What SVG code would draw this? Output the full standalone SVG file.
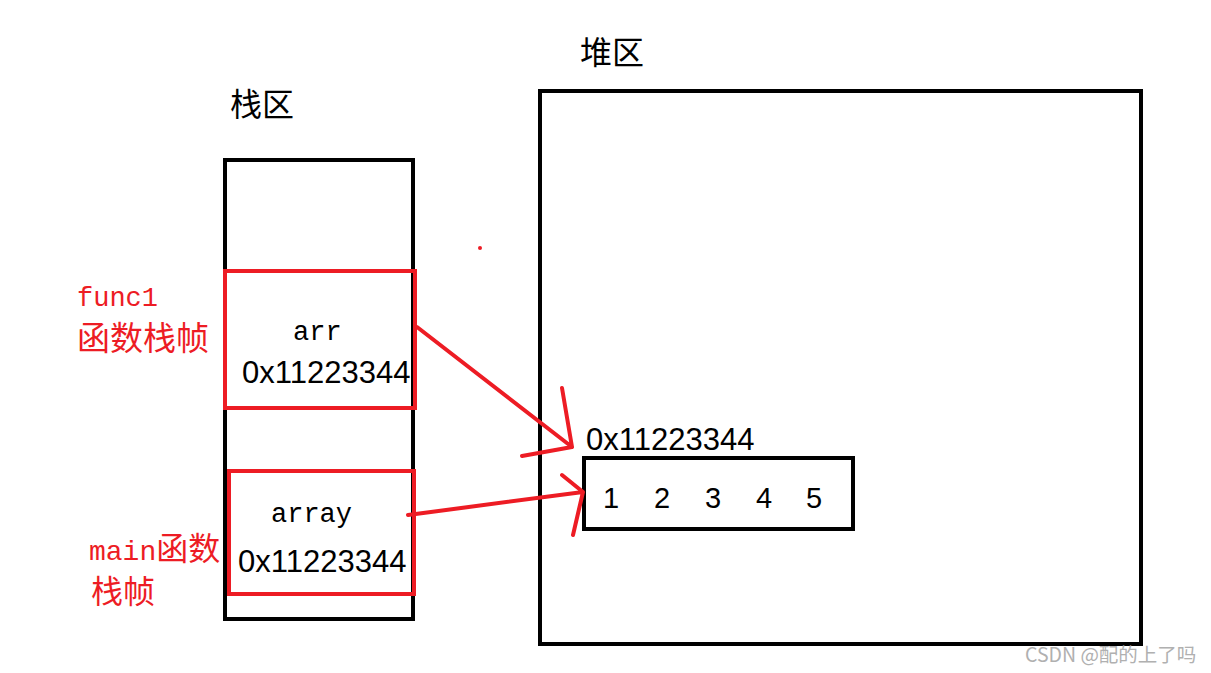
<svg xmlns="http://www.w3.org/2000/svg" width="1211" height="673" viewBox="0 0 1211 673">
<style>
.box{fill:none;stroke:#000;stroke-width:4}
.rbox{fill:none;stroke:#ed1c24;stroke-width:4}
.cn{font-family:"Noto Sans CJK SC","Noto Sans",sans-serif;font-size:32px}
.mono{font-family:"Liberation Mono","DejaVu Sans Mono",monospace;font-size:27px}
.num{font-family:"Liberation Sans",Arial,sans-serif;font-size:29px;fill:#000}
.addr{font-family:"Liberation Sans",Arial,sans-serif;font-size:31px;fill:#000}
.red{fill:#ed1c24}
.arrow{fill:none;stroke:#ed1c24;stroke-width:4;stroke-linecap:round;stroke-linejoin:round}
</style>
<rect width="1211" height="673" fill="#fff"/>
<g id="stack-label"><text class="cn" x="230" y="116">栈区</text></g>
<g id="heap-label"><text class="cn" x="580" y="64">堆区</text></g>
<g id="stack"><rect class="box" x="225" y="160" width="188" height="459"/></g>
<g id="heap"><rect class="box" x="540" y="91" width="601" height="553"/></g>
<g id="func1-frame">
<rect class="rbox" x="225" y="271" width="190" height="137"/>
<text class="mono" x="293" y="340">arr</text>
<text class="addr" x="242" y="383">0x11223344</text>
</g>
<g id="func1-label">
<text class="mono red" x="77" y="306">func1</text>
<text class="cn red" x="77" y="350" style="font-size:33px">函数栈帧</text>
</g>
<g id="main-frame">
<rect class="rbox" x="229" y="471" width="185" height="123"/>
<text class="mono" x="271" y="522">array</text>
<text class="addr" x="238" y="572">0x11223344</text>
</g>
<g id="main-label">
<text class="red" x="89" y="560"><tspan class="mono" style="font-size:28px">main</tspan><tspan class="cn">函数</tspan></text>
<text class="cn red" x="91" y="603">栈帧</text>
</g>
<g id="array-obj">
<text class="addr" x="586" y="450">0x11223344</text>
<rect class="box" x="584" y="458" width="269" height="71"/>
<text class="num" x="603" y="508">1</text>
<text class="num" x="654" y="508">2</text>
<text class="num" x="705" y="508">3</text>
<text class="num" x="756" y="508">4</text>
<text class="num" x="806" y="508">5</text>
</g>
<g id="connectors">
<path class="arrow" d="M417,327 L572,447 M562,388 L572,447 L522,456"/>
<path class="arrow" d="M408,515 L583,492 M562,475 L583,492 L573,535"/>
<circle cx="480" cy="248" r="2" fill="#ed1c24"/>
</g>
<g id="watermark"><text x="1025" y="662" font-family="'Noto Sans CJK SC','Liberation Sans',sans-serif" font-size="19.5" fill="#b0b0b0">CSDN @配的上了吗</text></g>
</svg>
